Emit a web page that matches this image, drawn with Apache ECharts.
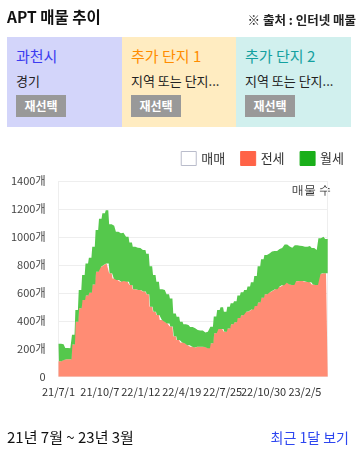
<!DOCTYPE html>
<html><head><meta charset="utf-8">
<script src="https://cdn.jsdelivr.net/npm/echarts@6/dist/echarts.min.js"></script>
<style>
html,body{margin:0;padding:0;background:#fff;width:360px;height:450px;overflow:hidden;font-family:"Noto Sans CJK KR","Noto Sans",sans-serif;}
.abs{position:absolute;white-space:nowrap;}
#chart{position:absolute;left:0;top:0;width:360px;height:450px;}
.box{position:absolute;top:37px;height:90px;}
.bt{position:absolute;left:9px;top:9px;font-size:15px;line-height:20px;}
.bs{position:absolute;left:9px;top:35px;font-size:13px;line-height:18px;color:#222;}
.btn{position:absolute;left:9px;top:58px;width:50px;height:22px;background:#999;color:#fff;font-size:12px;font-weight:bold;line-height:22px;text-align:center;}
</style></head>
<body>
<div id="chart"></div>
<div class="abs" style="left:7px;top:6px;font-size:15.5px;font-weight:bold;line-height:20px;color:#111;">APT 매물 추이</div>
<div class="abs" style="right:4px;top:11px;font-size:12.5px;font-weight:bold;line-height:18px;color:#222;">※ 출처 : 인터넷 매물</div>
<div class="box" style="left:7px;width:115px;background:#d3d5fa;">
  <div class="bt" style="color:#3c3cf0;">과천시</div>
  <div class="bs">경기</div>
  <div class="btn">재선택</div>
</div>
<div class="box" style="left:122px;width:114px;background:#ffecc1;">
  <div class="bt" style="color:#ff8c00;">추가 단지 1</div>
  <div class="bs">지역 또는 단지...</div>
  <div class="btn">재선택</div>
</div>
<div class="box" style="left:236px;width:115px;background:#d1f0ee;">
  <div class="bt" style="color:#14a0a0;">추가 단지 2</div>
  <div class="bs">지역 또는 단지...</div>
  <div class="btn">재선택</div>
</div>
<div class="abs" style="left:7px;top:427px;font-size:15px;line-height:20px;color:#111;">21년 7월 ~ 23년 3월</div>
<div class="abs" style="right:11px;top:427px;font-size:14px;line-height:20px;color:#2d46f0;">최근 1달 보기</div>
<script>
// ---- data (one value per 8-day step) ----
const startDate = [2021, 7, 1];
const endDate = [2023, 3, 31];
const stepDays = 8;
const tickLabels = ['21/7/1','21/10/7','22/1/12','22/4/19','22/7/25','22/10/30','23/2/5'];
const seriesNames = ['매매','전세','월세'];
const jeonse = [110,119,124,124,230,393,489,548,580,600,660,750,787,799,810,740,703,692,680,685,
  680,656,625,620,620,610,590,501,465,441,405,393,380,360,290,262,245,239,225,215,
  208,215,215,212,203,239,310,341,341,322,345,375,390,420,440,465,468,480,505,530,
  565,590,605,615,625,644,654,672,660,656,683,685,685,680,675,660,656,735,740,740];
const wolse = [125,113,81,79,70,84,131,179,230,251,270,300,343,371,380,350,377,345,346,345,
  321,304,305,302,300,296,290,289,262,239,220,227,210,200,163,167,148,136,145,140,
  138,119,115,105,119,119,120,136,155,143,156,150,150,160,165,155,177,195,215,260,
  275,280,277,280,275,269,266,273,272,266,257,252,250,250,260,260,250,255,262,245];
const yTicks = [0,200,400,600,800,1000,1200,1400];

// ---- build daily categories ----
const dates = [];
{
  let t = Date.UTC(startDate[0], startDate[1]-1, startDate[2]);
  const tEnd = Date.UTC(endDate[0], endDate[1]-1, endDate[2]);
  while (t <= tEnd) {
    const d = new Date(t);
    dates.push(String(d.getUTCFullYear()).slice(2) + '/' + (d.getUTCMonth()+1) + '/' + d.getUTCDate());
    t += 86400000;
  }
}
const hold = arr => dates.map((_, i) => arr[Math.min(Math.floor(i / stepDays), arr.length - 1)]);
const jeonseDaily = hold(jeonse);
const wolseDaily = hold(wolse);

const chart = echarts.init(document.getElementById('chart'), null, {renderer: 'canvas'});
const FONT = '"Noto Sans CJK KR","Noto Sans",sans-serif';
chart.setOption({
  animation: false,
  textStyle: {fontFamily: FONT},
  grid: {left: 58.5, right: 32.3, top: 181, bottom: 73.3, show: false},
  legend: {
    right: 11, top: 146, icon: 'rect', itemWidth: 15, itemHeight: 14, itemGap: 15,
    textStyle: {fontSize: 13, color: '#333', fontFamily: FONT},
    data: [
      {name: seriesNames[0], itemStyle: {color: '#ffffff', borderColor: '#b9bccb', borderWidth: 1}},
      {name: seriesNames[1], itemStyle: {color: '#ff6347', borderColor: '#ff6347', borderWidth: 1}},
      {name: seriesNames[2], itemStyle: {color: '#1aaf1a', borderColor: '#1aaf1a', borderWidth: 1}}
    ]
  },
  graphic: [{type: 'text', right: 29, top: 185, style: {text: '매물 수', fontSize: 12, fill: '#333', font: '12px ' + FONT}}],
  xAxis: {
    type: 'category', data: dates, boundaryGap: false,
    axisLine: {show: false}, axisTick: {show: false},
    splitLine: {show: true, interval: (idx) => idx === 0 || idx === dates.length - 1, lineStyle: {color: '#eeeeee'}},
    axisLabel: {
      interval: (idx, val) => tickLabels.includes(val),
      color: '#333', fontSize: 11, margin: 10, fontFamily: FONT
    }
  },
  yAxis: {
    type: 'value', min: yTicks[0], max: yTicks[yTicks.length-1], interval: yTicks[1]-yTicks[0],
    axisLine: {show: false}, axisTick: {show: false},
    splitLine: {lineStyle: {color: '#eeeeee', width: 1}},
    axisLabel: {color: '#444', fontSize: 11, margin: 13, fontFamily: FONT,
      formatter: v => v === 0 ? '0' : v + '개'}
  },
  series: [
    {name: seriesNames[0], type: 'line', data: [], symbol: 'none', itemStyle: {color: '#ffffff'}},
    {name: seriesNames[1], type: 'line', stack: 'total', data: jeonseDaily, symbol: 'none',
      itemStyle: {color: '#ff6347'}, lineStyle: {width: 0}, areaStyle: {color: '#ff8c74', opacity: 1}},
    {name: seriesNames[2], type: 'line', stack: 'total', data: wolseDaily, symbol: 'none',
      itemStyle: {color: '#1aaf1a'}, lineStyle: {width: 0}, areaStyle: {color: '#55c84c', opacity: 1}}
  ]
});
</script>
</body></html>
